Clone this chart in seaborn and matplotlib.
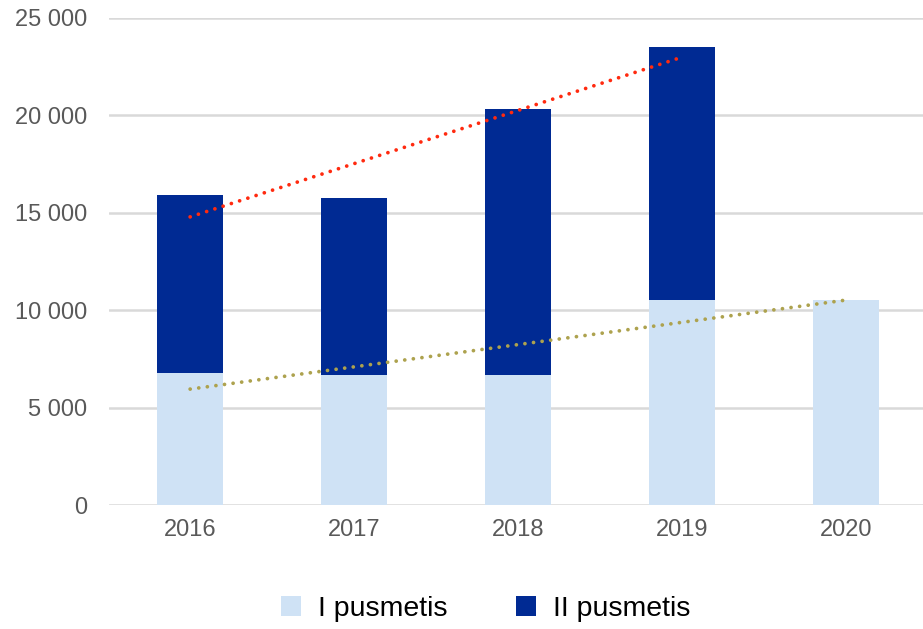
import matplotlib
matplotlib.use("Agg")
import matplotlib.pyplot as plt
from matplotlib.patches import Patch
from matplotlib.ticker import FuncFormatter
import seaborn as sns
import pandas as pd
import numpy as np

years = ["2016", "2017", "2018", "2019", "2020"]
first_half = [6760, 6690, 6690, 10510, 10520]      # I pusmetis
second_half = [9140, 9090, 13620, 13000, 0]        # II pusmetis
# trend lines (values read at first and last year)
trend_total_years = ["2016", "2019"]
trend_total_vals = [14790, 22990]
trend_first_years = ["2016", "2020"]
trend_first_vals = [5950, 10520]

c_light = "#CFE2F5"
c_dark = "#002A93"
c_red = "#FF2A0F"
c_olive = "#ADA24E"

sns.set_theme(style="white")
plt.rcParams["font.family"] = ["Liberation Sans", "DejaVu Sans"]

df = pd.DataFrame({"year": years, "I": first_half, "II": second_half})
df["total"] = df["I"] + df["II"]

fig = plt.figure(figsize=(9.23, 6.29), dpi=100)
ax = fig.add_axes([109 / 923, 1 - 505 / 629, 1 - 109 / 923, (505 - 18) / 629])

sns.barplot(data=df, x="year", y="total", order=years, color=c_dark,
            width=0.4, saturation=1, ax=ax, zorder=2, linewidth=0)
sns.barplot(data=df, x="year", y="I", order=years, color=c_light,
            width=0.4, saturation=1, ax=ax, zorder=3, linewidth=0)

pos = {y: i for i, y in enumerate(years)}
ax.plot([pos[y] for y in trend_total_years], trend_total_vals, color=c_red,
        lw=2.7, linestyle=(0, (0.01, 2.3)), dash_capstyle="round", zorder=4)
ax.plot([pos[y] for y in trend_first_years], trend_first_vals, color=c_olive,
        lw=2.7, linestyle=(0, (0.01, 2.3)), dash_capstyle="round", zorder=4)

ax.set_ylim(0, 25000)
ax.set_xlim(-0.495, 4.47)
ax.set_yticks(range(0, 25001, 5000))
ax.yaxis.set_major_formatter(FuncFormatter(lambda v, p: f"{int(v):,}".replace(",", " ")))
ax.grid(axis="y", color="#D9D9D9", lw=1.8, zorder=0)
ax.set_axisbelow(True)
for s in ax.spines.values():
    s.set_visible(False)
ax.set_xlabel("")
ax.set_ylabel("")
ax.tick_params(axis="both", length=0, labelsize=17, labelcolor="#595959")
ax.tick_params(axis="y", pad=16)
ax.tick_params(axis="x", pad=10)

handles = [Patch(facecolor=c_light, edgecolor="none", label="I pusmetis"),
           Patch(facecolor=c_dark, edgecolor="none", label="II pusmetis")]
fig.legend(handles=handles, loc="center", bbox_to_anchor=(486 / 923, 1 - 609 / 629),
           ncol=2, frameon=False, fontsize=20.5, handlelength=0.7, handleheight=0.7,
           handletextpad=0.6, columnspacing=2.4, labelcolor="black")

fig.savefig("out.png", dpi=100)
